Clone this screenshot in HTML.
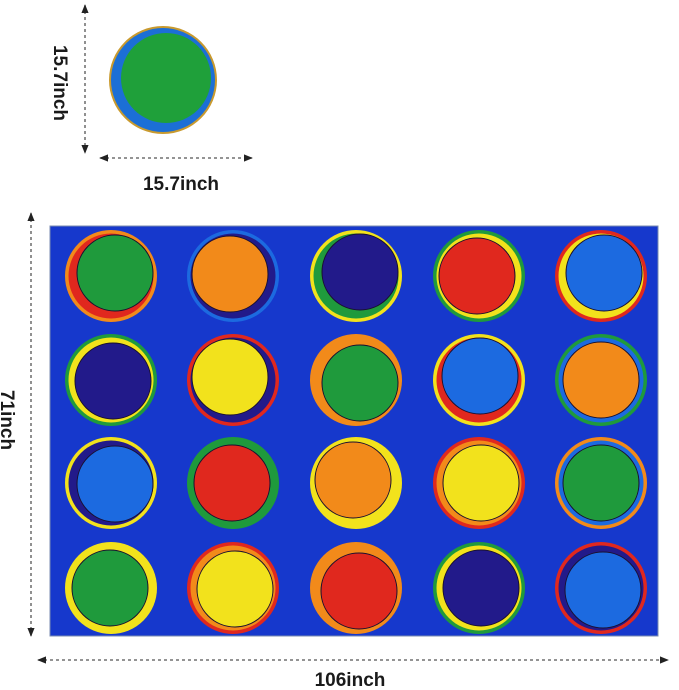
<!DOCTYPE html>
<html><head><style>
html,body{margin:0;padding:0;background:#fff;width:679px;height:690px;overflow:hidden}
text{font-family:"Liberation Sans",Arial,sans-serif;font-size:19px;font-weight:bold;fill:#1a1a1a}
</style></head><body>
<svg width="679" height="690" viewBox="0 0 679 690">
<defs>
<marker id="ah" viewBox="0 0 10 10" refX="9" refY="5" markerWidth="7" markerHeight="7" orient="auto-start-reverse"><path d="M0,1 L10,5 L0,9 Z" fill="#222"/></marker>
</defs>
<circle cx="163" cy="80" r="54" fill="#c99a2e"/>
<circle cx="163" cy="80" r="52" fill="#1c6fd6"/>
<circle cx="166" cy="78" r="45" fill="#1fa03a"/>
<line x1="85" y1="5" x2="85" y2="153" stroke="#555" stroke-width="1.3" stroke-dasharray="3,3" marker-start="url(#ah)" marker-end="url(#ah)"/>
<line x1="100" y1="158" x2="252" y2="158" stroke="#555" stroke-width="1.3" stroke-dasharray="3,3" marker-start="url(#ah)" marker-end="url(#ah)"/>
<text transform="translate(54,83) rotate(90)" text-anchor="middle">15.7inch</text>
<text x="181" y="190" text-anchor="middle">15.7inch</text>
<line x1="31" y1="213" x2="31" y2="636" stroke="#555" stroke-width="1.3" stroke-dasharray="3,3" marker-start="url(#ah)" marker-end="url(#ah)"/>
<line x1="38" y1="660" x2="668" y2="660" stroke="#555" stroke-width="1.3" stroke-dasharray="3,3" marker-start="url(#ah)" marker-end="url(#ah)"/>
<text transform="translate(1,420) rotate(90)" text-anchor="middle">71inch</text>
<text x="350" y="686" text-anchor="middle">106inch</text>
<rect x="50" y="226" width="608" height="410" fill="#1638cc" stroke="#7a8bb0" stroke-width="1"/>
<g id="dots"></g>
</svg>
<script>
var O="#f28a1a",R="#e0281e",G="#1f9a3c",Y="#f2e21c",B="#1c6ae0",N="#221a8a";
var xs=[111,233,356,479,601], ys=[276,380,483,588];
var d=[
[[O,R,G,4,-3],[B,N,O,-3,-2],[Y,G,N,4,-4],[G,Y,R,-2,0],[R,Y,B,3,-3]],
[[G,Y,N,2,1],[R,N,Y,-3,-3],[O,O,G,4,3],[Y,R,B,1,-4],[G,B,O,0,0]],
[[Y,N,B,4,1],[G,G,R,-1,0],[Y,Y,O,-3,-3],[R,O,Y,2,0],[O,B,G,0,0]],
[[Y,Y,G,-1,0],[R,O,Y,2,1],[O,O,R,3,3],[G,Y,N,2,0],[R,N,B,2,2]]];
var s="";
for(var r=0;r<4;r++)for(var c=0;c<5;c++){var e=d[r][c],x=xs[c],y=ys[r];
s+='<circle cx="'+x+'" cy="'+y+'" r="46" fill="'+e[0]+'"/>';
s+='<circle cx="'+x+'" cy="'+y+'" r="42.5" fill="'+e[1]+'"/>';
s+='<circle cx="'+(x+e[3])+'" cy="'+(y+e[4])+'" r="38" fill="'+e[2]+'" stroke="#1a1030" stroke-width="1"/>';}
document.getElementById("dots").innerHTML=s;
</script>
</body></html>
